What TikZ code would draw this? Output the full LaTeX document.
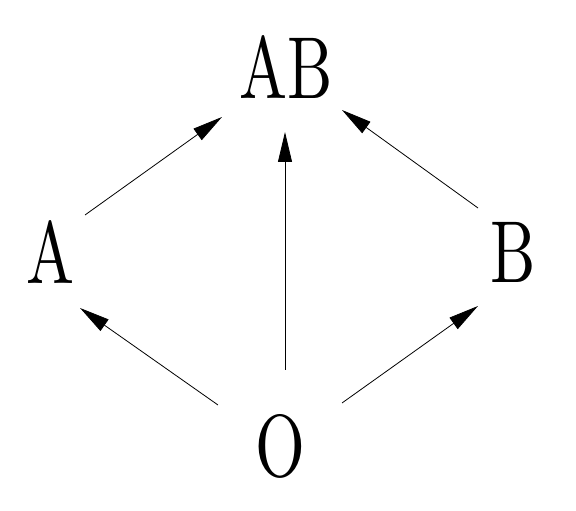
\documentclass[tikz,border=0pt]{standalone}
\usetikzlibrary{arrows.meta,calc}
\newcommand{\narrowtext}[1]{\scalebox{6.4}[8.8]{\fontsize{10}{10}\selectfont #1}}
\begin{document}
\begin{tikzpicture}[x=1pt,y=1pt,
  lbl/.style={inner sep=0pt},
  arr/.style={draw=black,line width=0.8pt,-{Triangle[length=30pt,width=14pt]}}]
\useasboundingbox (0,0) rectangle (576,511);
\node[lbl] (AB) at (286,444) {\narrowtext{AB}};
\node[lbl] (A) at (51,259) {\narrowtext{A}};
\node[lbl] (B) at (513,259) {\narrowtext{B}};
\node[lbl] (O) at (280,65) {\narrowtext{O}};
\draw[arr] ($(A.center)+(34,37)$) -- ($(AB.center)+(-64,-50)$);
\draw[arr] ($(B.center)+(-35,44)$) -- ($(AB.center)+(56,-43)$);
\draw[arr] ($(O.center)+(5,76)$) -- ($(AB.center)+(-1,-65)$);
\draw[arr] ($(O.center)+(-62,41)$) -- ($(A.center)+(29,-56)$);
\draw[arr] ($(O.center)+(62,43)$) -- ($(B.center)+(-35,-54)$);
\end{tikzpicture}
\end{document}
